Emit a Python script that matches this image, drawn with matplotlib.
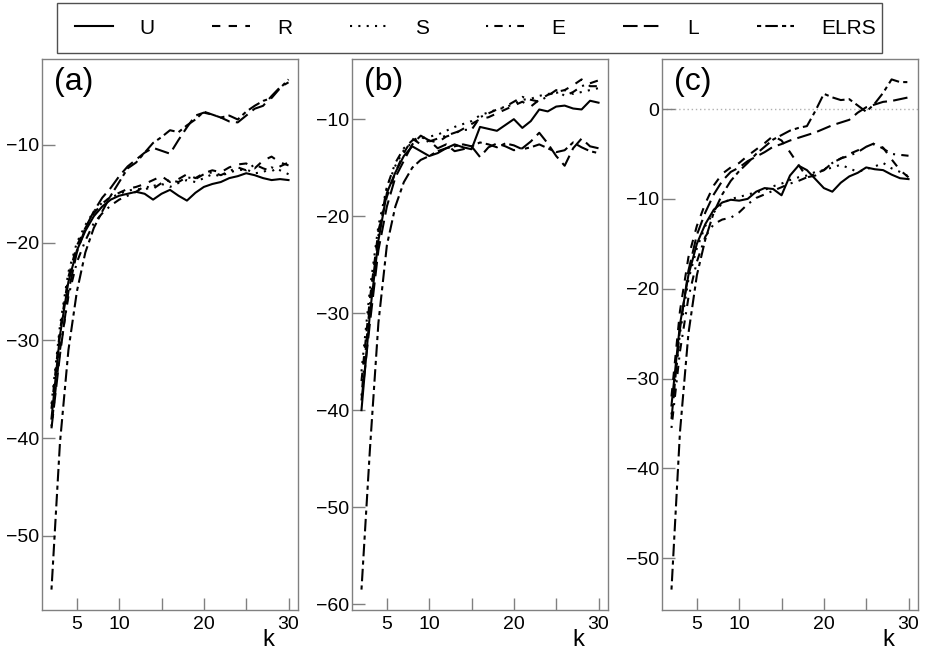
import numpy as np
import matplotlib.pyplot as plt
from matplotlib.patches import Rectangle

plt.rcParams['font.family'] = ['Liberation Sans', 'DejaVu Sans']
plt.rcParams['font.size'] = 14

k = np.arange(2, 31)
methods = ['U', 'R', 'S', 'E', 'L', 'ELRS']

# panel (a)
U_a = [-38.0, -29.5, -24.0, -20.8, -18.8, -17.3, -16.3, -15.6, -15.2, -15.0, -14.8, -15.0, -15.6, -15.0, -14.6,
       -15.2, -15.7, -14.9, -14.3, -14.0, -13.8, -13.4, -13.2, -12.9, -13.1, -13.4, -13.6, -13.5, -13.6]
R_a = [-37.0, -29.0, -23.5, -20.3, -18.5, -17.0, -16.0, -15.3, -14.9, -14.5, -14.3, -14.0, -13.6, -13.2, -13.8,
       -13.5, -13.0, -13.4, -12.9, -12.6, -12.8, -12.3, -12.0, -11.9, -12.4, -11.6, -11.2, -11.8, -12.1]
S_a = [-36.5, -28.5, -23.0, -20.0, -18.2, -16.8, -15.9, -15.4, -15.0, -14.7, -14.5, -14.6, -14.2, -14.0, -14.3,
       -13.9, -13.6, -13.8, -13.4, -13.0, -13.2, -12.8, -12.6, -12.5, -12.9, -12.8, -12.3, -12.6, -13.0]
E_a = [-38.8, -31.0, -25.5, -22.0, -19.8, -18.0, -17.0, -16.2, -15.6, -15.2, -14.8, -14.2, -14.5, -13.9, -13.6,
       -13.8, -13.3, -13.5, -13.0, -12.8, -13.1, -12.7, -12.3, -12.6, -12.0, -12.4, -12.7, -12.2, -11.8]
L_a = [-39.0, -31.5, -25.0, -21.0, -18.5, -16.8, -15.4, -14.4, -13.2, -12.2, -11.5, -10.8, -10.3, -10.6, -10.9,
       -9.5, -8.2, -7.0, -6.7, -6.9, -7.2, -7.6, -7.7, -7.0, -6.3, -6.0, -5.0, -4.1, -3.6]
ELRS_a = [-55.5, -40.5, -31.0, -25.0, -21.0, -18.5, -16.8, -15.2, -13.8, -12.4, -11.8, -10.8, -9.8, -9.2, -8.5,
          -8.7, -8.0, -7.4, -6.6, -6.9, -7.2, -7.0, -7.4, -6.6, -6.0, -5.5, -5.2, -4.2, -3.3]

# panel (b)
U_b = [-40.0, -30.0, -22.5, -17.6, -15.5, -13.8, -12.8, -13.3, -13.8, -13.5, -13.0, -12.6, -12.9, -13.1, -10.8,
       -11.0, -11.2, -10.6, -10.0, -10.9, -10.2, -9.0, -9.2, -8.7, -8.6, -8.9, -9.0, -8.1, -8.3]
R_b = [-37.0, -28.5, -21.5, -18.0, -15.5, -13.5, -12.0, -12.6, -12.2, -12.4, -11.8, -11.5, -11.0, -10.5, -10.0,
       -9.8, -9.4, -9.0, -8.6, -8.2, -8.7, -8.0, -7.5, -7.2, -7.0, -6.5, -5.9, -6.6, -6.6]
S_b = [-36.0, -27.5, -21.0, -17.0, -14.8, -13.2, -12.4, -12.0, -11.8, -11.6, -11.2, -10.8, -10.5, -10.2, -9.6,
       -9.3, -9.0, -8.8, -8.4, -8.0, -7.9, -7.6, -7.4, -7.3, -7.0, -7.4, -7.2, -7.0, -6.8]
E_b = [-38.5, -29.0, -22.0, -17.0, -14.5, -13.0, -12.2, -11.8, -12.3, -12.0, -11.7, -11.4, -11.1, -11.1, -9.8,
       -9.4, -9.0, -8.7, -8.2, -7.7, -8.0, -8.2, -7.6, -7.0, -7.6, -7.2, -6.6, -6.3, -6.0]
L_b = [-39.0, -31.0, -23.5, -19.0, -16.0, -14.3, -12.6, -11.7, -12.2, -13.0, -12.6, -13.3, -13.1, -12.8, -13.9,
       -12.9, -12.5, -12.8, -13.2, -13.0, -12.3, -11.4, -12.5, -13.8, -14.8, -13.0, -12.0, -12.8, -13.0]
ELRS_b = [-58.5, -44.0, -31.0, -23.0, -19.0, -16.5, -15.0, -14.2, -13.8, -13.3, -13.0, -12.8, -12.6, -12.8, -12.4,
          -12.6, -12.9, -12.5, -12.7, -13.1, -12.9, -12.6, -13.0, -13.4, -13.2, -12.4, -12.9, -13.3, -13.5]

# panel (c)
U_c = [-33.0, -24.0, -18.5, -15.0, -12.8, -11.2, -10.4, -10.1, -10.2, -10.0, -9.2, -8.8, -8.9, -9.6, -7.4,
       -6.3, -6.8, -7.8, -8.8, -9.2, -8.2, -7.5, -7.1, -6.5, -6.7, -6.8, -7.3, -7.7, -7.8]
R_c = [-32.0, -22.5, -16.5, -13.0, -10.5, -8.5, -7.2, -6.5, -6.0, -5.2, -4.5, -3.8, -3.0, -3.5, -4.8,
       -6.2, -7.6, -7.4, -6.8, -6.0, -5.5, -5.0, -4.6, -4.2, -3.8, -4.3, -5.6, -6.8, -7.6]
S_c = [-34.0, -25.0, -19.0, -15.5, -13.0, -11.5, -10.5, -10.0, -9.8, -9.5, -9.3, -9.0, -8.6, -8.3, -7.9,
       -7.6, -7.4, -7.0, -6.8, -6.5, -6.2, -6.6, -7.0, -6.7, -6.4, -6.0, -6.6, -7.0, -7.5]
E_c = [-35.5, -27.0, -21.0, -17.0, -14.2, -12.8, -12.3, -12.1, -11.5, -10.6, -9.9, -9.5, -9.1, -8.7, -8.3,
       -8.0, -7.6, -7.2, -6.8, -6.0, -5.5, -5.2, -4.8, -4.2, -3.9, -4.4, -5.0, -5.1, -5.2]
L_c = [-34.5, -24.5, -18.0, -14.0, -11.5, -9.5, -8.0, -7.0, -6.5, -5.8, -5.3, -4.8, -4.2, -3.9, -3.5,
       -3.2, -2.9, -2.6, -2.2, -1.8, -1.5, -1.2, -0.4, 0.2, 0.5, 0.8, 0.9, 1.1, 1.3]
ELRS_c = [-53.5, -36.0, -25.0, -18.5, -14.5, -11.5, -9.5, -8.0, -6.9, -6.0, -5.0, -4.2, -3.4, -2.9, -2.4,
          -2.1, -1.9, -0.2, 1.7, 1.3, 1.0, 1.1, 0.4, -0.3, 0.6, 1.8, 3.3, 3.0, 3.0]

panels = [
    ('(a)', [U_a, R_a, S_a, E_a, L_a, ELRS_a], [-50, -40, -30, -20, -10]),
    ('(b)', [U_b, R_b, S_b, E_b, L_b, ELRS_b], [-60, -50, -40, -30, -20, -10]),
    ('(c)', [U_c, R_c, S_c, E_c, L_c, ELRS_c], [-50, -40, -30, -20, -10, 0]),
]

# R style line types: solid, dashed, dotted, dotdash, longdash, twodash
styles = ['-', (0, (4, 4)), (0, (1, 3)), (0, (1, 3, 4, 3)), (0, (7, 3)), (0, (2, 2, 6, 2))]
frame_col = '#808080'

fig = plt.figure(figsize=(9.25, 6.53), dpi=100)
lefts = [42 / 925, 352 / 925, 662 / 925]
bottom, height = 1 - 610 / 653, (610 - 59) / 653
w = 256 / 925

handles = []
for i, (tag, series, yt) in enumerate(panels):
    ax = fig.add_axes([lefts[i], bottom, w, height])
    for j, s in enumerate(series):
        ln, = ax.plot(k, s, color='black', lw=1.5, linestyle=styles[j], label=methods[j])
        if i == 0:
            handles.append(ln)
    lo = min(min(s) for s in series)
    hi = max(max(s) for s in series)
    pad = (hi - lo) * 0.04
    ax.set_ylim(lo - pad, hi + pad)
    ax.set_xlim(2 - 28 * 0.04, 30 + 28 * 0.04)
    if tag == '(c)':
        ax.axhline(0, color='#b0b0b0', lw=1, linestyle=(0, (1, 2)), zorder=0)
    ax.set_xticks([5, 10, 15, 20, 25, 30])
    ax.set_xticklabels(['5', '10', '', '20', '', '30'])
    ax.set_yticks(yt)
    ax.tick_params(direction='in', length=9, width=1, color=frame_col, labelsize=14)
    ax.tick_params(axis='x', pad=4)
    ax.tick_params(axis='y', pad=2)
    for sp in ax.spines.values():
        sp.set_color(frame_col)
        sp.set_linewidth(1)
    ax.text(12 / 256, 0.986, tag, transform=ax.transAxes, fontsize=23, va='top', ha='left')
    ax.annotate('k', xy=(0.885, 0), xycoords='axes fraction', xytext=(0, -30),
                textcoords='offset pixels', ha='center', va='center', fontsize=17)

# legend box across the top, entries spread inside it
box_l, box_r, box_t, box_b = 57, 882, 3, 53
fig.patches.append(Rectangle((box_l / 925, 1 - box_b / 653), (box_r - box_l) / 925, (box_b - box_t) / 653,
                             transform=fig.transFigure, fill=False,
                             edgecolor='#505050', lw=1))
leg = fig.legend(handles=handles, loc='center', ncol=6, mode='expand',
                 bbox_to_anchor=(75 / 925, 1 - box_b / 653, (876 - 75) / 925, (box_b - box_t) / 653),
                 frameon=False, handlelength=1.8, fontsize=15,
                 borderaxespad=0, borderpad=0, handletextpad=1.3)

fig.savefig('out.png', dpi=100)
